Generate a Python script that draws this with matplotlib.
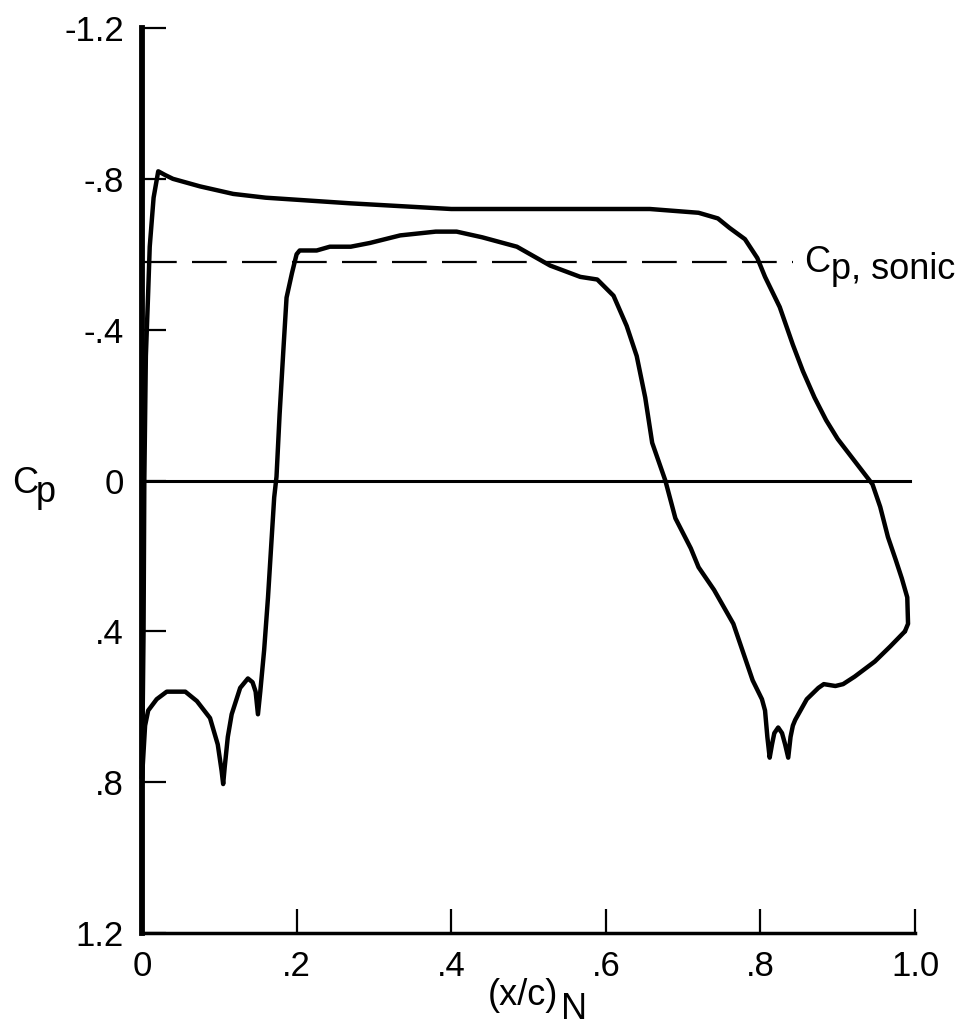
import matplotlib
matplotlib.use("Agg")
import matplotlib.pyplot as plt

plt.rcParams['font.family'] = ['Liberation Sans', 'DejaVu Sans']
plt.rcParams['lines.scale_dashes'] = False

# ---- data ----
x_ticks = [0, 0.2, 0.4, 0.6, 0.8, 1.0]
x_ticklabels = ['0', '.2', '.4', '.6', '.8', '1.0']
y_ticks = [-1.2, -0.8, -0.4, 0, 0.4, 0.8, 1.2]
y_ticklabels = ['-1.2', '-.8', '-.4', '0', '.4', '.8', '1.2']

cp_sonic = -0.58
sonic_x_end = 0.842

outer_x = [0.0, 0.002, 0.003, 0.005, 0.008, 0.010, 0.015, 0.021, 0.030, 0.040,
           0.075, 0.118, 0.160, 0.270, 0.400, 0.590, 0.657, 0.720, 0.745, 0.760,
           0.780, 0.796, 0.806, 0.825, 0.842, 0.855, 0.870, 0.885, 0.900, 0.915,
           0.930, 0.945, 0.955, 0.965, 0.975, 0.983, 0.990, 0.991, 0.987]
outer_cp = [0.79, 0.40, 0.00, -0.33, -0.50, -0.62, -0.75, -0.82, -0.81, -0.80,
            -0.78, -0.76, -0.75, -0.735, -0.72, -0.72, -0.72, -0.71, -0.695, -0.67,
            -0.64, -0.59, -0.54, -0.46, -0.36, -0.29, -0.22, -0.16, -0.11, -0.07,
            -0.03, 0.01, 0.07, 0.15, 0.21, 0.26, 0.31, 0.38, 0.40]

inner_x = [0.0, 0.002, 0.004, 0.008, 0.019, 0.032, 0.056, 0.071, 0.088, 0.098,
           0.103, 0.105, 0.107, 0.111, 0.116, 0.127, 0.137, 0.143, 0.147, 0.150,
           0.153, 0.158, 0.163, 0.171, 0.174, 0.178, 0.183, 0.187, 0.194, 0.200,
           0.204, 0.226, 0.243, 0.270, 0.295, 0.334, 0.380, 0.407, 0.440, 0.485,
           0.528, 0.567, 0.589, 0.610, 0.627, 0.640, 0.651, 0.660, 0.677, 0.690,
           0.710, 0.720, 0.740, 0.765, 0.780, 0.790, 0.802, 0.806, 0.809, 0.812,
           0.815, 0.818, 0.823, 0.828, 0.832, 0.836, 0.839, 0.842, 0.845, 0.860,
           0.875, 0.882, 0.897, 0.907, 0.922, 0.948, 0.968, 0.987]
inner_cp = [0.79, 0.72, 0.65, 0.61, 0.58, 0.56, 0.56, 0.585, 0.63, 0.70,
            0.77, 0.805, 0.76, 0.68, 0.62, 0.55, 0.525, 0.535, 0.56, 0.62,
            0.56, 0.45, 0.31, 0.045, -0.01, -0.175, -0.35, -0.485, -0.55, -0.60,
            -0.61, -0.61, -0.62, -0.62, -0.63, -0.65, -0.66, -0.66, -0.645, -0.62,
            -0.57, -0.54, -0.533, -0.49, -0.41, -0.33, -0.22, -0.10, 0.00, 0.10,
            0.18, 0.23, 0.29, 0.38, 0.47, 0.53, 0.58, 0.61, 0.68, 0.735,
            0.70, 0.67, 0.655, 0.67, 0.70, 0.735, 0.68, 0.65, 0.635, 0.58,
            0.55, 0.54, 0.545, 0.54, 0.52, 0.48, 0.44, 0.40]

# ---- figure ----
W, H = 966, 1027
fig = plt.figure(figsize=(W / 100, H / 100), dpi=100)
L, R, T, B = 142, 915, 28, 933
ax = fig.add_axes([L / W, 1 - B / H, (R - L) / W, (B - T) / H])

ax.set_xlim(0, 1.0)
ax.set_ylim(1.2, -1.2)

ax.plot(outer_x, outer_cp, color='black', lw=3.2, clip_on=False,
        solid_joinstyle='round', solid_capstyle='round')
ax.plot(inner_x, inner_cp, color='black', lw=3.2, clip_on=False,
        solid_joinstyle='round', solid_capstyle='round')
ax.plot([0, 0.994], [0, 0], color='black', lw=2.2, clip_on=False)
ax.plot([0, sonic_x_end], [cp_sonic, cp_sonic], color='black', lw=1.6,
        linestyle=(0, (25, 11)))

for s in ['top', 'right']:
    ax.spines[s].set_visible(False)
ax.spines['left'].set_linewidth(4.2)
ax.spines['bottom'].set_linewidth(2.5)

ax.set_xticks(x_ticks)
ax.set_xticklabels(x_ticklabels)
ax.set_yticks(y_ticks)
ax.set_yticklabels(y_ticklabels)
ax.tick_params(direction='in', length=17, width=1.6, labelsize=25, color='black')
ax.tick_params(axis='y', pad=13)
ax.tick_params(axis='x', pad=12)

# axis labels (full-size lowered subscripts)
fs = 26
fig.text(12 / W, 1 - 493 / H, 'C', fontsize=fs, ha='left', va='baseline')
fig.text(36 / W, 1 - 502 / H, 'p', fontsize=fs, ha='left', va='baseline')

fig.text(558 / W, 1 - 1005 / H, '(x/c)', fontsize=fs, ha='right', va='baseline')
fig.text(561 / W, 1 - 1019 / H, 'N', fontsize=fs, ha='left', va='baseline')

fig.text(804 / W, 1 - 272 / H, 'C', fontsize=fs, ha='left', va='baseline')
fig.text(831 / W, 1 - 279 / H, 'p, sonic', fontsize=fs, ha='left', va='baseline')

fig.savefig('out.png', dpi=100)
